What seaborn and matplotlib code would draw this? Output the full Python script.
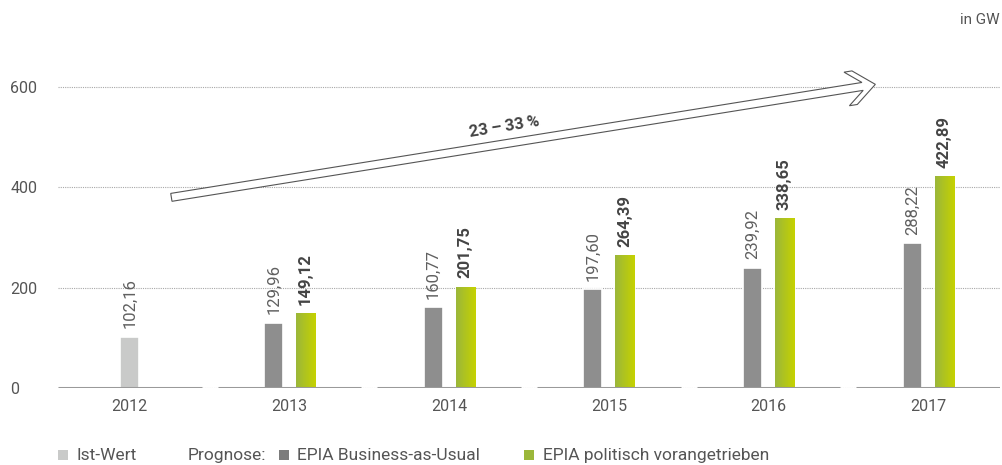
import numpy as np
import pandas as pd
import matplotlib
matplotlib.use("Agg")
import matplotlib.pyplot as plt
import matplotlib.transforms as mtransforms
from matplotlib.patches import Polygon, Rectangle
import seaborn as sns

# ---------------- data ----------------
years = ["2012", "2013", "2014", "2015", "2016", "2017"]
ist_years = ["2012"]
ist_values = [102.16]
prog_years = ["2013", "2014", "2015", "2016", "2017"]
bau_values = [129.96, 160.77, 197.60, 239.92, 288.22]
pol_values = [149.12, 201.75, 264.39, 338.65, 422.89]
series_names = ["EPIA Business-as-Usual", "EPIA politisch vorangetrieben"]
yticks = [0, 200, 400, 600]
growth_label = "23\u2009\u2013\u200933\u2009%"

c_ist = "#c9cac9"
c_bau = "#8e8e8e"
c_pol_left = "#9bb73a"
c_pol_right = "#c6d200"
c_text = "#555555"

sns.set_theme(style="white")
plt.rcParams["font.family"] = ["Roboto", "DejaVu Sans"]

ist_df = pd.DataFrame({"Jahr": ist_years, "GW": ist_values})
prog_df = pd.DataFrame({
    "Jahr": prog_years * 2,
    "GW": bau_values + pol_values,
    "Szenario": [series_names[0]] * len(prog_years) + [series_names[1]] * len(prog_years),
})

fig = plt.figure(figsize=(10.02, 4.65), dpi=100)
ax = fig.add_axes([58 / 1002, 77 / 465, 942 / 1002, 650 * 0.5017 / 465])

sns.barplot(data=ist_df, x="Jahr", y="GW", order=years, color=c_ist, width=0.119,
            edgecolor="white", linewidth=1.2, ax=ax, zorder=3)
sns.barplot(data=prog_df, x="Jahr", y="GW", hue="Szenario", order=years,
            hue_order=series_names, palette=[c_bau, c_pol_right], width=0.4, gap=0.4,
            edgecolor="white", linewidth=1.2, legend=False, ax=ax, zorder=3)

ax.set_xlim(-0.45, 5.45)
ax.set_ylim(0, 650)
ax.set_yticks(yticks)
ax.set_xlabel("")
ax.set_ylabel("")
for s in ax.spines.values():
    s.set_visible(False)
ax.yaxis.grid(True, linestyle=(0, (1, 1)), color="#a8a8a8", linewidth=0.8)
ax.set_axisbelow(True)
ax.tick_params(axis="y", length=0, pad=34.5, labelsize=11.5, labelcolor=c_text)
ax.tick_params(axis="x", length=0, pad=8, labelsize=11.5, labelcolor=c_text)
for lab in ax.get_yticklabels():
    lab.set_horizontalalignment("left")

# baseline segments per year group
for i in range(len(years)):
    ax.hlines(0, i - 0.45, i + 0.45, color="#9a9a9a", lw=2.2, zorder=4)

# green gradient on the politisch bars
grad = np.linspace(0, 1, 64).reshape(1, -1)
cmap = matplotlib.colors.LinearSegmentedColormap.from_list("g", [c_pol_left, c_pol_right])
green_cont = ax.containers[2]
for bar in green_cont:
    x0, y0 = bar.get_x(), bar.get_y()
    w, h = bar.get_width(), bar.get_height()
    im = ax.imshow(grad, extent=[x0, x0 + w, y0, y0 + h], aspect="auto", cmap=cmap,
                   zorder=3.5, interpolation="bicubic")
    im.set_clip_path(bar)
ax.set_xlim(-0.45, 5.45)
ax.set_ylim(0, 650)

# value labels
fmt = lambda v: f"{v:.2f}".replace(".", ",")
ax.bar_label(ax.containers[0], labels=[fmt(v) for v in ist_values], padding=6,
             rotation=90, fontsize=12, color="#606060")
ax.bar_label(ax.containers[1], labels=[fmt(v) for v in bau_values], padding=6,
             rotation=90, fontsize=12, color="#606060")
ax.bar_label(ax.containers[2], labels=[fmt(v) for v in pol_values], padding=6,
             rotation=90, fontsize=12, color="#444444", fontweight="bold")

# growth arrow (hollow, chevron head), sized in pixels
L, w, hl, hw, t = 713, 8, 21, 17, 8
k = hl * (w / 2) / hw
verts = [(0, -w / 2), (L - t - k, -w / 2), (L - hl - t, -hw), (L - hl, -hw), (L, 0),
         (L - hl, hw), (L - hl - t, hw), (L - t - k, w / 2), (0, w / 2)]
ang = np.degrees(np.arctan2(113, 704))
x_px, y_px = ax.transData.transform((0.26, 380))
arrow = Polygon(verts, closed=True, facecolor="white", edgecolor="#555555", lw=0.8,
                transform=mtransforms.Affine2D().rotate_deg(ang).translate(x_px, y_px),
                zorder=6)
ax.add_artist(arrow)
ax.text(2.344, 520, growth_label, rotation=ang, rotation_mode="anchor", ha="center",
        va="center", fontsize=12, fontweight="bold", color="#444444", zorder=7)

# unit
fig.text(0.998, 0.957, "in GW", ha="right", va="center", fontsize=11, color=c_text)

# legend drawn by hand
ly = 1 - 455 / 465
def leg_box(xpx, color):
    fig.patches.append(Rectangle((xpx / 1002, (465 - 460) / 465), 10 / 1002, 10 / 465,
                                 transform=fig.transFigure, facecolor=color, edgecolor="none"))
leg_box(58, c_ist)
fig.text(77 / 1002, ly, "Ist-Wert", ha="left", va="center", fontsize=12.5, color=c_text)
fig.text(188 / 1002, ly, "Prognose:", ha="left", va="center", fontsize=12.5, color=c_text)
leg_box(279, "#7c7c7c")
fig.text(297 / 1002, ly, series_names[0], ha="left", va="center", fontsize=12.5, color=c_text)
leg_box(524, c_pol_left)
fig.text(543 / 1002, ly, series_names[1], ha="left", va="center", fontsize=12.5, color=c_text)

fig.savefig("out.png", dpi=100)
